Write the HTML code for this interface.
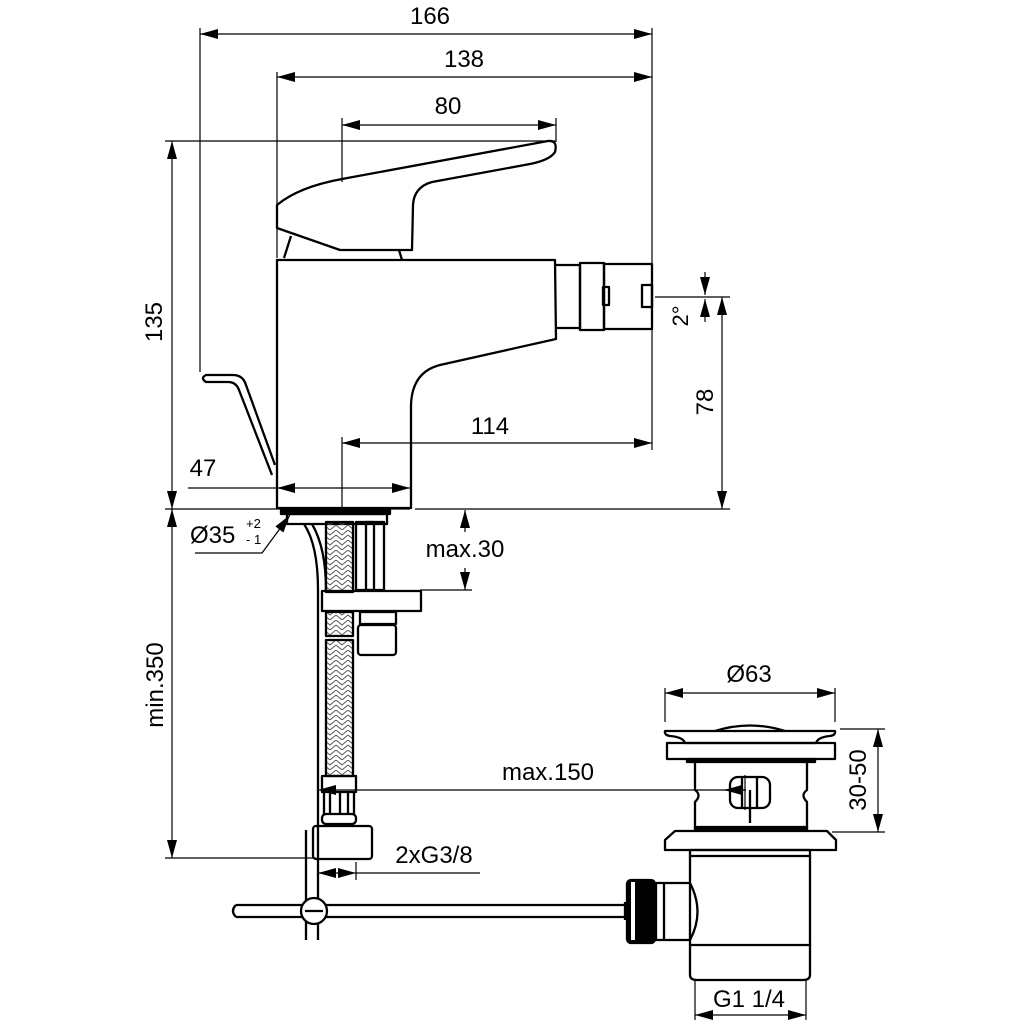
<!DOCTYPE html>
<html><head><meta charset="utf-8"><style>
html,body{margin:0;padding:0;background:#fff;}
svg{display:block;}
text{font-family:"Liberation Sans",Arial,sans-serif;font-size:24px;fill:#000;}
</style></head><body>
<svg width="1024" height="1024" viewBox="0 0 1024 1024" xmlns="http://www.w3.org/2000/svg">
<defs>
<marker id="a" viewBox="0 0 18 10" refX="18" refY="5" markerWidth="18" markerHeight="10" markerUnits="userSpaceOnUse" orient="auto-start-reverse"><path d="M0,0 L18,5 L0,10 Z" fill="#000"/></marker>
<pattern id="braid" width="12" height="10" patternUnits="userSpaceOnUse"><path d="M0,0 L6,5 L12,0 M0,5 L6,10 L12,5" stroke="#555" stroke-width="1" fill="none"/></pattern>
</defs>
<g fill="none" stroke="#000" stroke-width="1.2">
<line x1="200" y1="34" x2="652" y2="34" marker-start="url(#a)" marker-end="url(#a)"/>
<line x1="277" y1="77" x2="652" y2="77" marker-start="url(#a)" marker-end="url(#a)"/>
<line x1="342" y1="125" x2="556" y2="125" marker-start="url(#a)" marker-end="url(#a)"/>
<line x1="200" y1="28" x2="200" y2="372"/>
<line x1="652" y1="28" x2="652" y2="450"/>
<line x1="277" y1="72" x2="277" y2="258"/>
<line x1="342" y1="118" x2="342" y2="182"/>
<line x1="556" y1="118" x2="556" y2="142"/>
<line x1="165" y1="141" x2="556" y2="141"/>
<line x1="172" y1="141" x2="172" y2="509" marker-start="url(#a)" marker-end="url(#a)"/>
<line x1="165" y1="509" x2="410" y2="509"/>
<line x1="415" y1="509" x2="730" y2="509"/>
<line x1="342" y1="443" x2="652" y2="443" marker-start="url(#a)" marker-end="url(#a)"/>
<line x1="342" y1="437" x2="342" y2="509"/>
<line x1="188" y1="488" x2="277" y2="488"/>
<line x1="277" y1="488" x2="410" y2="488" marker-start="url(#a)" marker-end="url(#a)"/>
<line x1="655" y1="297" x2="730" y2="297"/>
<line x1="722" y1="297" x2="722" y2="509" marker-start="url(#a)" marker-end="url(#a)"/>
<line x1="705" y1="272" x2="705" y2="295" marker-end="url(#a)"/>
<line x1="705" y1="322" x2="705" y2="299" marker-end="url(#a)"/>
<polyline points="195,553 262,553 290,515" marker-end="url(#a)"/>
<line x1="465" y1="532" x2="465" y2="510" marker-end="url(#a)"/>
<line x1="465" y1="568" x2="465" y2="590" marker-end="url(#a)"/>
<line x1="420" y1="590" x2="472" y2="590"/>
<line x1="172" y1="509" x2="172" y2="858" marker-start="url(#a)" marker-end="url(#a)"/>
<line x1="165" y1="858" x2="316" y2="858"/>
<line x1="746" y1="790" x2="318" y2="790" marker-end="url(#a)"/>
<line x1="746" y1="790" x2="724" y2="790" marker-end="url(#a)"/>
<line x1="745" y1="775" x2="745" y2="810"/>
<line x1="340" y1="873" x2="318" y2="873" marker-end="url(#a)"/>
<line x1="338" y1="873" x2="356" y2="873" marker-end="url(#a)"/>
<line x1="356" y1="873" x2="480" y2="873"/>
<line x1="356" y1="862" x2="356" y2="880"/>
<line x1="665" y1="693" x2="835" y2="693" marker-start="url(#a)" marker-end="url(#a)"/>
<line x1="665" y1="688" x2="665" y2="722"/>
<line x1="835" y1="688" x2="835" y2="722"/>
<line x1="840" y1="729" x2="885" y2="729"/>
<line x1="832" y1="832" x2="885" y2="832"/>
<line x1="878" y1="729" x2="878" y2="832" marker-start="url(#a)" marker-end="url(#a)"/>
<line x1="695" y1="1015" x2="806" y2="1015" marker-start="url(#a)" marker-end="url(#a)"/>
<line x1="695" y1="980" x2="695" y2="1020"/>
<line x1="806" y1="980" x2="806" y2="1020"/>
</g>
<g fill="none" stroke="#000" stroke-width="2.3" stroke-linejoin="round">
<path d="M277,205 C295,190 320,183 342,179 L548,141 Q558,140 555,152 Q550,160 530,164 L432,182 Q414,187 413,205 L412,250 L340,250 L277,228 Z"/>
<path d="M291,236 L284,258 M399,250 L402,260"/>
<path d="M277,260 L555,260 L556,339 L440,365 Q412,372 411,405 L411,508 L277,508 Z"/>
<path d="M556,265 L580,265 L580,328 L557,328"/>
<rect x="580" y="263" width="24" height="67"/>
<rect x="604" y="264" width="48" height="65"/>
<rect x="603" y="287" width="6" height="18"/>
<rect x="642" y="285" width="10" height="22"/>
<path d="M275,465 L246,385 Q243,375 233,375 L206,375 Q200,378 206,382 L228,382 Q236,382 239,390 L272,475"/>
<rect x="281" y="510" width="109" height="4" fill="#000"/>
<rect x="287" y="514" width="100" height="10"/>
<path d="M304,524 Q318,545 318,590 L318,940 M312,524 Q326,548 326,590"/>
<path d="M306,830 L306,940"/>
<rect x="326" y="522" width="27" height="70" fill="url(#braid)"/>
<rect x="356" y="522" width="28" height="68"/>
<rect x="366" y="522" width="8" height="68"/>
<rect x="322" y="591" width="99" height="20"/>
<rect x="326" y="612" width="27" height="24" fill="url(#braid)"/>
<rect x="326" y="640" width="27" height="136" fill="url(#braid)"/>
<rect x="360" y="612" width="36" height="12"/>
<rect x="358" y="625" width="38" height="30" rx="3"/>
<rect x="322" y="776" width="34" height="16"/>
<path d="M324,792 L324,814 M330,792 L330,814 M340,792 L340,814 M348,792 L348,814 M354,792 L354,814"/>
<rect x="322" y="814" width="34" height="10" rx="4"/>
<rect x="313" y="826" width="59" height="33" rx="3"/>
<path d="M236,905 L625,905 M236,917 L625,917 M236,905 Q230,911 236,917"/>
<circle cx="314" cy="911" r="13" fill="#fff"/>
<line x1="305" y1="911" x2="323" y2="911"/>
<path d="M665,731 L835,731 Q836,735 830,736 Q818,737 816,743 L685,743 Q683,737 670,736 Q664,735 665,731 Z"/>
<path d="M715,731 Q750,720 785,731"/>
<rect x="667" y="743" width="168" height="16"/>
<rect x="687" y="759" width="128" height="3" fill="#000"/>
<path d="M695,762 L695,790 Q702,795 695,802 L695,828 M807,762 L807,790 Q800,795 807,802 L807,828"/>
<rect x="730" y="777" width="40" height="31" rx="8"/>
<path d="M742,777 L742,808 M757,777 L757,808 M750,790 L750,823"/>
<rect x="695" y="827" width="112" height="3" fill="#000"/>
<path d="M675,831 L827,831 L836,840 L836,850 L665,850 L665,840 Z"/>
<rect x="690" y="850" width="120" height="6"/>
<path d="M690,856 L690,945 L810,945 L810,856"/>
<path d="M690,945 L690,975 Q690,980 697,980 L803,980 Q810,980 810,975 L810,945"/>
<path d="M690,883 L656,883 L656,940 L690,940 Q705,912 690,883"/>
<path d="M664,883 L664,940"/>
<rect x="627" y="880" width="28" height="63" rx="4" fill="#000"/>
<rect x="631" y="882" width="4" height="58" fill="#fff" stroke="none"/>
<path d="M625,902 L625,920"/>
</g>
<text x="430" y="24" text-anchor="middle">166</text>
<text x="464" y="67" text-anchor="middle">138</text>
<text x="448" y="114" text-anchor="middle">80</text>
<text x="490" y="434" text-anchor="middle">114</text>
<text x="203" y="476" text-anchor="middle">47</text>
<text transform="translate(162,322) rotate(-90)" text-anchor="middle">135</text>
<text transform="translate(713,402) rotate(-90)" text-anchor="middle">78</text>
<text transform="translate(688,316) rotate(-90)" text-anchor="middle" style="font-size:22px">2°</text>
<text x="190" y="543">Ø35</text>
<text x="246" y="528" style="font-size:13px">+2</text>
<text x="246" y="544" style="font-size:13px">- 1</text>
<text x="465" y="557" text-anchor="middle">max.30</text>
<text transform="translate(163,685) rotate(-90)" text-anchor="middle">min.350</text>
<text x="548" y="780" text-anchor="middle">max.150</text>
<text x="434" y="863" text-anchor="middle">2xG3/8</text>
<text x="749" y="682" text-anchor="middle">Ø63</text>
<text transform="translate(866,780) rotate(-90)" text-anchor="middle">30-50</text>
<text x="749" y="1007" text-anchor="middle">G1 1/4</text>
</svg>
</body></html>
